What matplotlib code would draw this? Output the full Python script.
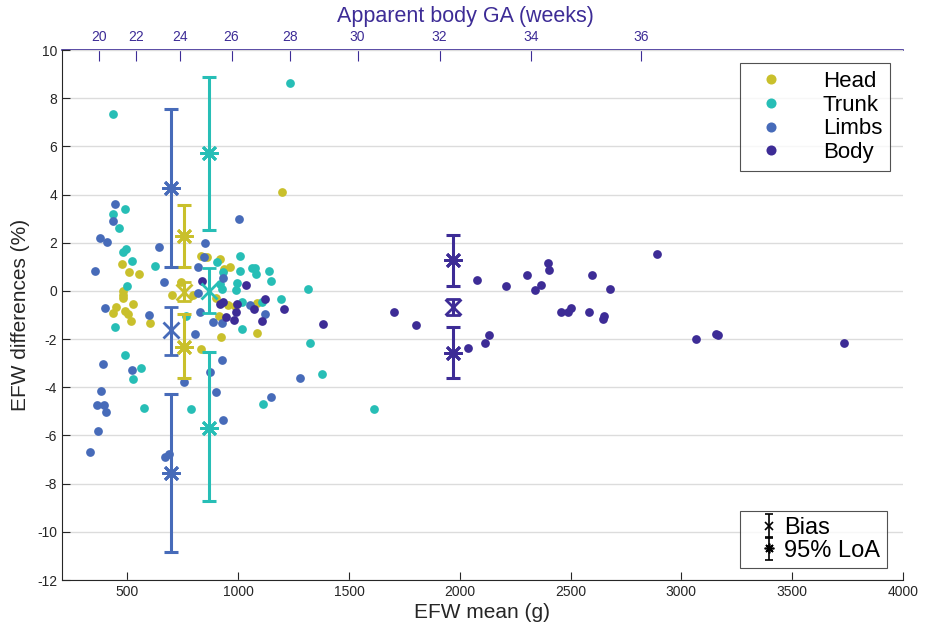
import numpy as np
import matplotlib
matplotlib.use("Agg")
import matplotlib.pyplot as plt

plt.rcParams['font.family'] = ['Liberation Sans', 'DejaVu Sans']
plt.rcParams['axes.unicode_minus'] = False

# ---------------- data ----------------
head_x = [1200, 476, 509, 554, 482, 482, 482, 527, 450, 437, 491, 504, 517, 604, 742, 701, 798,
          830, 860, 920, 965, 934, 898, 956, 987, 1086, 912, 923, 1083, 834]
head_y = [4.1, 1.12, 0.8, 0.7, 0.0, -0.17, -0.3, -0.54, -0.65, -0.91, -0.82, -0.95, -1.23, -1.33,
          0.39, -0.17, -0.17, 1.45, 1.4, 1.33, 1.0, 0.9, -0.3, -0.58, -0.62, -0.49, -1.04, -1.9,
          -1.73, -2.4]

trunk_x = [434, 1232, 488, 435, 460, 482, 494, 521, 626, 499, 446, 766, 488, 905, 1007, 1010,
           1063, 1075, 1081, 1138, 1146, 993, 990, 1316, 1191, 1015, 1108, 1018, 1323, 932, 916,
           925, 1379, 562, 526, 574, 785, 1111, 1614]
trunk_y = [7.35, 8.63, 3.4, 3.2, 2.6, 1.63, 1.74, 1.26, 1.05, 0.22, -1.5, -1.04, -2.66, 1.2, 1.45,
           0.83, 0.94, 0.97, 0.69, 0.83, 0.42, 0.32, 0.04, 0.08, -0.34, -0.44, -0.44, -1.58, -2.15,
           0.8, 0.3, 0.08, -3.45, -3.21, -3.67, -4.88, -4.91, -4.68, -4.91]

limbs_x = [446, 434, 375, 408, 355, 641, 849, 819, 845, 664, 818, 826, 397, 599, 807, 887, 1003,
           932, 928, 1055, 1119, 928, 1278, 388, 521, 383, 363, 393, 405, 368, 330, 669, 686, 754,
           875, 898, 1146, 932]
limbs_y = [3.6, 2.9, 2.19, 2.05, 0.84, 1.84, 2.0, 0.98, 1.4, 0.39, -0.07, -0.86, -0.69, -1.0,
           -1.79, -1.27, 2.99, 0.53, -1.34, -0.58, -0.95, -2.86, -3.6, -3.03, -3.3, -4.14, -4.73,
           -4.73, -5.04, -5.81, -6.7, -6.88, -6.78, -3.79, -3.37, -4.2, -4.39, -5.35]

body_x = [836, 920, 1036, 932, 995, 1123, 1070, 1206, 988, 943, 981, 1108, 1384, 1702, 1802,
          2036, 2076, 2112, 2130, 2207, 2302, 2338, 2365, 2399, 2402, 2456, 2487, 2500, 2585,
          2596, 2646, 2651, 2676, 2892, 3065, 3155, 3165, 3734]
body_y = [0.42, -0.54, 0.25, -0.48, -0.54, -0.34, -0.76, -0.76, -0.86, -1.09, -1.2, -1.23, -1.38,
          -0.89, -1.40, -2.39, 0.46, -2.15, -1.83, 0.22, 0.68, 0.04, 0.25, 1.16, 0.87, -0.86,
          -0.86, -0.72, -0.87, 0.64, -1.17, -1.04, 0.07, 1.54, -1.98, -1.78, -1.83, -2.17]

groups = ['Head', 'Trunk', 'Limbs', 'Body']
colors = ['#c9c02c', '#27beb6', '#476bb9', '#3d2c96']

# Bland-Altman summary per group: position, bias [lo, hi], upper LoA [lo, hi], lower LoA [lo, hi]
ba_x = [757, 870, 699, 1971]
bias = [-0.03, -0.02, -1.62, -0.68]
bias_lo = [-0.42, -0.90, -2.66, -1.00]
bias_hi = [0.36, 0.94, -0.68, -0.35]
uloa = [2.26, 5.71, 4.26, 1.27]
uloa_lo = [0.98, 2.54, 0.98, 0.21]
uloa_hi = [3.56, 8.87, 7.54, 2.32]
lloa = [-2.31, -5.70, -7.55, -2.56]
lloa_lo = [-3.60, -8.72, -10.83, -3.60]
lloa_hi = [-0.97, -2.55, -4.27, -1.51]

ga_weeks = [20, 22, 24, 26, 28, 30, 32, 34, 36]
ga_efw = [374, 541, 739, 970, 1234, 1539, 1909, 2320, 2817]

xticks = [500, 1000, 1500, 2000, 2500, 3000, 3500, 4000]
yticks = list(range(-12, 11, 2))

# ---------------- plot ----------------
fig = plt.figure(figsize=(9.25, 6.36), dpi=100)
ax = fig.add_axes([62 / 925, 56 / 636, 841 / 925, 530 / 636])

axis_col = '#262626'
ax.set_xlim(205, 4000)
ax.set_ylim(-12, 10)
ax.set_yticks(yticks)
ax.set_xticks(xticks)
ax.grid(axis='y', color='#dcdcdc', linewidth=1.0)
ax.set_axisbelow(True)
for s in ['top', 'right']:
    ax.spines[s].set_visible(False)
for s in ['left', 'bottom']:
    ax.spines[s].set_color(axis_col)
    ax.spines[s].set_linewidth(0.8)
ax.tick_params(axis='both', direction='in', length=6, width=0.8, colors=axis_col,
               labelsize=10, labelcolor=axis_col)

data = [(head_x, head_y), (trunk_x, trunk_y), (limbs_x, limbs_y), (body_x, body_y)]
handles = []
for (xs, ys), c, g in zip(data, colors, groups):
    h, = ax.plot(xs, ys, 'o', color=c, markersize=6.3, markeredgewidth=0, label=g, zorder=3)
    handles.append(h)

star = (8, 2, 0)
for i, c in enumerate(colors):
    xx = ba_x[i]
    ax.errorbar([xx], [bias[i]], yerr=[[bias[i] - bias_lo[i]], [bias_hi[i] - bias[i]]],
                fmt='x', color=c, markersize=11, mew=2, elinewidth=2.2, capsize=5, capthick=2.2,
                zorder=4)
    ax.errorbar([xx], [uloa[i]], yerr=[[uloa[i] - uloa_lo[i]], [uloa_hi[i] - uloa[i]]],
                fmt='none', ecolor=c, elinewidth=2.2, capsize=5, capthick=2.2, zorder=4)
    ax.errorbar([xx], [lloa[i]], yerr=[[lloa[i] - lloa_lo[i]], [lloa_hi[i] - lloa[i]]],
                fmt='none', ecolor=c, elinewidth=2.2, capsize=5, capthick=2.2, zorder=4)
    ax.plot([xx, xx], [uloa[i], lloa[i]], linestyle='none', marker=star, color=c,
            markersize=13, mew=2, zorder=5)

ax.set_xlabel('EFW mean (g)', fontsize=15, color=axis_col, labelpad=3)
ax.set_ylabel('EFW differences (%)', fontsize=15, color=axis_col, labelpad=5)

leg1 = ax.legend(handles=handles, loc='upper right', fontsize=16, frameon=True,
                 fancybox=False, edgecolor='#262626', bbox_to_anchor=(0.9975, 0.996),
                 handletextpad=1.25, borderpad=0.35, labelspacing=0.12, handlelength=2.12,
                 markerscale=1.15)
leg1.get_frame().set_linewidth(0.8)
ax.add_artist(leg1)

eb1 = ax.errorbar([np.nan], [np.nan], yerr=[1], fmt='x', color='k', markersize=6, mew=1.2,
                  elinewidth=1.2, capsize=3, capthick=1.2, label='Bias')
eb2 = ax.errorbar([np.nan], [np.nan], yerr=[1], fmt='none', ecolor='k',
                  elinewidth=1.2, capsize=3, capthick=1.2)
h_loa, = ax.plot([], [], linestyle='none', marker=star, color='k', markersize=7, mew=1.2)
leg2 = ax.legend(handles=[eb1, (eb2, h_loa)], labels=['Bias', '95% LoA'], loc='lower right',
                 fontsize=17, frameon=True, fancybox=False, edgecolor='#262626',
                 bbox_to_anchor=(0.995, 0.0), handletextpad=-0.3, borderpad=0.28,
                 labelspacing=0.02, handlelength=1.9)
leg2.get_frame().set_linewidth(0.8)

# top axis: apparent GA
purple = '#3d2c96'
top = ax.secondary_xaxis('top')
top.set_xticks(ga_efw)
top.set_xticklabels([str(w) for w in ga_weeks])
top.tick_params(direction='in', length=8, width=0.8, colors=purple, labelsize=10,
                labelcolor=purple, pad=4)
top.spines['top'].set_color(purple)
top.spines['top'].set_linewidth(1.2)
top.spines['top'].set_zorder(10)
top.set_xlabel('Apparent body GA (weeks)', fontsize=15.5, color=purple, labelpad=6, x=0.48)

fig.savefig('out.png', dpi=100)
